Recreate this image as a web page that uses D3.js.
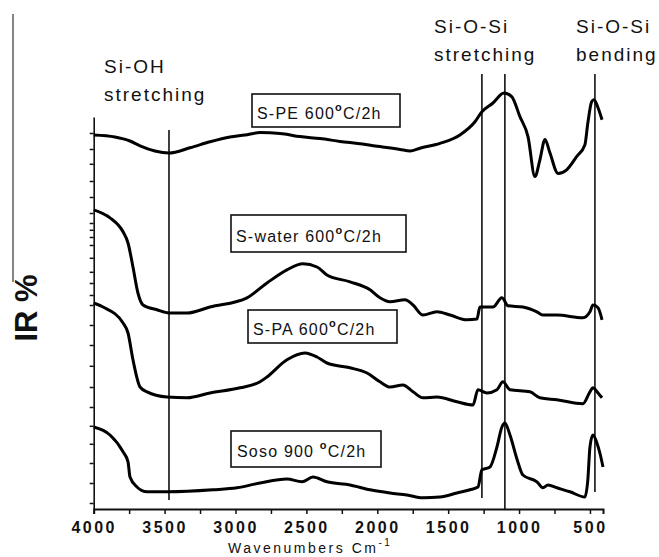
<!DOCTYPE html>
<html lang="en">

<head>
    <meta charset="UTF-8" />
    <title>IR spectra</title>
    <script src="https://d3js.org/d3.v7.min.js"></script>
    <style>
        body { margin: 0; background: #fff; }
        text { font-family: "Liberation Sans", Arial, sans-serif; fill: #111; }
    </style>
</head>

<body>
    <script>
        var w = 659;
        var h = 557;

        // wavenumbers (cm-1) and IR % (arbitrary units)
        var peWave = [4000, 3850, 3744, 3673, 3568, 3469, 3321, 3180, 3039, 2933, 2827, 2686, 2545, 2404, 2263, 2122, 1981, 1840, 1769, 1699, 1558, 1417, 1311, 1262, 1184, 1106, 1052, 994, 937, 888, 853, 817, 782, 725, 664, 594, 536, 515, 488, 472, 443, 415];
        var peIR = [93.5, 93, 92, 90.8, 89.5, 89, 90.3, 91.8, 93, 93.5, 94.1, 93.9, 93.1, 92.6, 91.9, 91.3, 90.6, 89.9, 89.5, 90.2, 91.4, 93.5, 96.8, 99.3, 101.5, 104, 103.1, 98.1, 93.1, 83.1, 87.3, 92.4, 89, 83.9, 84.8, 88.1, 91, 96.5, 101.8, 102.3, 100.3, 97.3];

        var waterWave = [4000, 3885, 3793, 3758, 3723, 3688, 3652, 3554, 3469, 3342, 3180, 2919, 2778, 2637, 2524, 2425, 2355, 2192, 2051, 1981, 1910, 1805, 1748, 1678, 1579, 1487, 1367, 1297, 1276, 1241, 1184, 1121, 1078, 973, 874, 832, 733, 550, 500, 479, 443, 415];
        var waterIR = [74.8, 72.8, 69.3, 66.5, 60.5, 54, 51, 49.8, 49, 49, 50.5, 52.8, 56.5, 59.8, 61.3, 60.5, 58.5, 56.8, 54.8, 52.8, 51.8, 52.3, 51, 48.5, 49.3, 48.5, 47.3, 47.5, 50.5, 50.5, 50.5, 52.8, 50.8, 50.5, 49.3, 48.5, 48.5, 47.8, 49.3, 51, 50.3, 47.3];

        var paWave = [4000, 3934, 3793, 3758, 3723, 3673, 3624, 3483, 3342, 3180, 2968, 2827, 2778, 2637, 2510, 2425, 2355, 2192, 2072, 1981, 1910, 1819, 1748, 1678, 1579, 1438, 1325, 1290, 1227, 1156, 1114, 1064, 923, 853, 733, 550, 500, 479, 443, 415];
        var paIR = [51.5, 50.5, 46.5, 44, 37.3, 30.5, 29.3, 28, 27.8, 29, 30.3, 31.8, 33, 37.3, 39, 38, 36.5, 35.3, 34, 31.8, 30.5, 31, 29.3, 27.8, 28, 26.8, 26, 29.8, 29, 29.8, 31.8, 29.8, 29.3, 27.8, 27.3, 26.3, 29.3, 30.3, 29, 27.8];

        var sosoWave = [4000, 3885, 3793, 3758, 3744, 3695, 3624, 3476, 3159, 2989, 2827, 2637, 2531, 2454, 2355, 2192, 2051, 1910, 1791, 1678, 1558, 1438, 1346, 1290, 1262, 1205, 1156, 1121, 1100, 1064, 1015, 973, 874, 832, 796, 733, 641, 536, 515, 500, 479, 451, 430, 408];
        var sosoIR = [20.5, 18.5, 14.3, 11.8, 8, 5.5, 4.3, 4.3, 4.8, 5.3, 6.5, 7.5, 6.8, 8, 6.8, 6, 4.8, 4, 3.5, 2.8, 3, 4, 4.8, 5.5, 9.8, 10.5, 15.5, 20.5, 21.5, 18.5, 12.5, 8.5, 6.8, 5.3, 6, 5.3, 4.3, 3, 7.3, 15.5, 18.5, 16.5, 14, 10.5];

        var xTickValues = [4000, 3750, 3500, 3250, 3000, 2750, 2500, 2250, 2000, 1750, 1500, 1250, 1000, 750, 500];
        var yTickValues = [1.5, 6.5, 11.5, 16.3, 20.8, 25.5, 30.5, 35.8, 41, 46, 51, 53.5, 56.5, 59.3, 62.8, 66, 68, 69.8, 71.5, 74, 78, 82, 86.3, 90, 94];
        var bandWave = [3469, 1262, 1100, 465];

        var svg = d3.select("body")
            .append("svg")
            .attr("width", w)
            .attr("height", h);

        var xScale = d3.scaleLinear()
            .domain([4000, 408])
            .range([93.7, 603]);

        var yScale = d3.scaleLinear()
            .domain([0, 98])
            .range([509, 117]);

        // stray frame line on the left of the scan
        svg.append("line")
            .attr("x1", 13).attr("x2", 13)
            .attr("y1", 14).attr("y2", 282)
            .attr("stroke", "#333")
            .attr("stroke-width", 1.2);

        // x axis
        var xAxis = d3.axisBottom(xScale)
            .tickValues(xTickValues)
            .tickSize(5)
            .tickPadding(8)
            .tickFormat(function (d) { return d % 500 === 0 ? d : ""; });

        var gx = svg.append("g")
            .attr("transform", "translate(0," + yScale(0) + ")")
            .call(xAxis);
        gx.select(".domain").attr("stroke", "#111").attr("stroke-width", 2);
        gx.selectAll(".tick line").attr("stroke", "#111").attr("stroke-width", 1.5);
        gx.selectAll(".tick text")
            .attr("font-size", 16)
            .attr("font-weight", "bold")
            .attr("letter-spacing", 2.5)
            .attr("font-family", "Liberation Sans, Arial, sans-serif")
            .attr("fill", "#111");

        // y axis, no labels
        var yAxis = d3.axisLeft(yScale)
            .tickValues(yTickValues)
            .tickSize(4)
            .tickSizeOuter(0)
            .tickFormat("");

        var gy = svg.append("g")
            .attr("transform", "translate(" + xScale(4000) + ",0)")
            .call(yAxis);
        gy.select(".domain").attr("stroke", "#111").attr("stroke-width", 1.6);
        gy.selectAll(".tick line").attr("stroke", "#111").attr("stroke-width", 1.5);

        // band marker lines
        var bandTop = [94.75, 108.75, 108.75, 108.75];
        var bandBottom = [2.25, 2.75, 0, 4.25];
        svg.selectAll(".band")
            .data(bandWave)
            .enter()
            .append("line")
            .attr("class", "band")
            .attr("x1", function (d) { return xScale(d); })
            .attr("x2", function (d) { return xScale(d); })
            .attr("y1", function (d, i) { return yScale(bandTop[i]); })
            .attr("y2", function (d, i) { return yScale(bandBottom[i]); })
            .attr("stroke", "#111")
            .attr("stroke-width", 1.6);

        // spectra
        var line = d3.line()
            .x(function (d) { return xScale(d[0]); })
            .y(function (d) { return yScale(d[1]); })
            .curve(d3.curveMonotoneX);

        var series = [
            d3.zip(peWave, peIR),
            d3.zip(waterWave, waterIR),
            d3.zip(paWave, paIR),
            d3.zip(sosoWave, sosoIR)
        ];

        svg.selectAll(".spectrum")
            .data(series)
            .enter()
            .append("path")
            .attr("class", "spectrum")
            .attr("d", line)
            .attr("fill", "none")
            .attr("stroke", "#000")
            .attr("stroke-width", 3)
            .attr("stroke-linejoin", "round");

        // boxed sample labels
        var boxes = [
            { name: "S-PE 600", deg: "C/2h", x: 257, y: 119, bx: 252, by: 94, bw: 148, bh: 33 },
            { name: "S-water 600", deg: "C/2h", x: 236, y: 242, bx: 231, by: 215, bw: 175, bh: 37 },
            { name: "S-PA 600", deg: "C/2h", x: 253, y: 335, bx: 248, by: 310, bw: 149, bh: 33 },
            { name: "Soso 900 ", deg: "C/2h", x: 237, y: 457, bx: 231, by: 431, bw: 150, bh: 36 }
        ];

        boxes.forEach(function (b) {
            svg.append("rect")
                .attr("x", b.bx).attr("y", b.by)
                .attr("width", b.bw).attr("height", b.bh)
                .attr("fill", "#fff")
                .attr("stroke", "#111")
                .attr("stroke-width", 1.6);
            var t = svg.append("text")
                .attr("x", b.x).attr("y", b.y)
                .attr("font-size", 16)
                .attr("letter-spacing", 1.2);
            t.append("tspan").text(b.name);
            t.append("tspan")
                .attr("dy", -8)
                .attr("font-size", 11)
                .attr("font-weight", "bold")
                .text("o");
            t.append("tspan")
                .attr("dy", 8)
                .text(b.deg);
        });

        // band annotations
        var notes = [
            { lines: ["Si-OH", "stretching"], x: 104, y: 73 },
            { lines: ["Si-O-Si", "stretching"], x: 434, y: 33 },
            { lines: ["Si-O-Si", "bending"], x: 576, y: 33 }
        ];
        notes.forEach(function (n) {
            n.lines.forEach(function (s, i) {
                svg.append("text")
                    .attr("x", n.x)
                    .attr("y", n.y + i * 28)
                    .attr("font-size", 19)
                    .attr("letter-spacing", 2)
                    .text(s);
            });
        });

        // axis titles
        var xt = svg.append("text")
            .attr("x", 228)
            .attr("y", 553)
            .attr("font-size", 14)
            .attr("letter-spacing", 2.5);
        xt.append("tspan").text("Wavenumbers Cm");
        xt.append("tspan").attr("dy", -7).attr("font-size", 10).text("-1");

        svg.append("text")
            .attr("transform", "translate(37,308) rotate(-90)")
            .attr("text-anchor", "middle")
            .attr("font-size", 31)
            .attr("font-weight", "bold")
            .text("IR %");
    </script>
</body>

</html>
